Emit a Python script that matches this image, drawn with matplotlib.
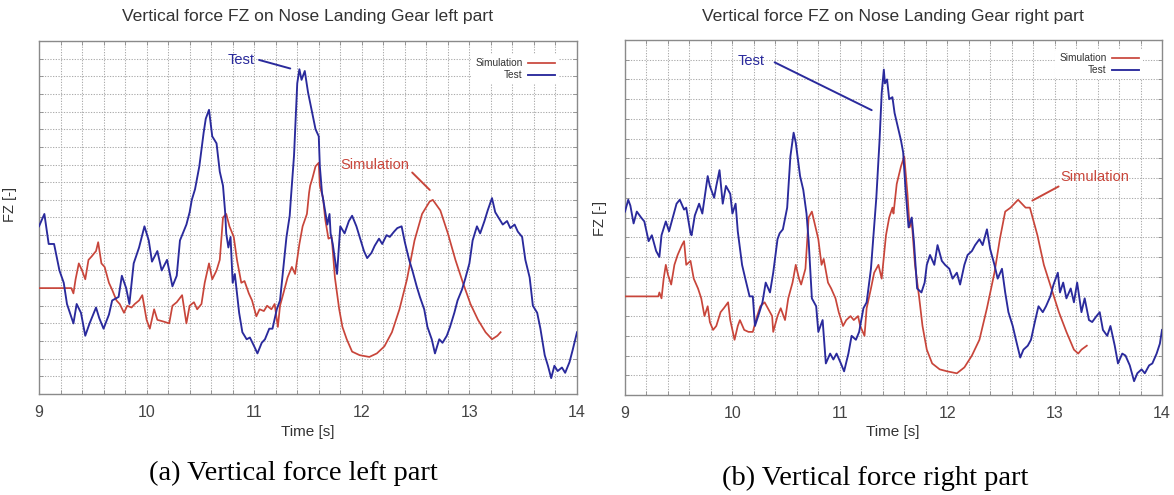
import numpy as np
import matplotlib
matplotlib.use("Agg")
import matplotlib.pyplot as plt

# ---------------- data (y in grid units) ----------------
left_test_t = [9.00, 9.05, 9.09, 9.14, 9.19, 9.23, 9.26, 9.32, 9.35, 9.39, 9.43, 9.47, 9.53, 9.56, 9.60,
               9.65, 9.68, 9.74, 9.77, 9.81, 9.84, 9.88, 9.93, 9.98, 10.02, 10.05, 10.10, 10.14, 10.19,
               10.24, 10.28, 10.31, 10.37, 10.40, 10.42, 10.45, 10.49, 10.53, 10.55, 10.58, 10.61, 10.65,
               10.68, 10.71, 10.73, 10.74, 10.76, 10.78, 10.80, 10.82, 10.86, 10.89, 10.93, 10.96, 11.00,
               11.03, 11.07, 11.10, 11.14, 11.17, 11.21, 11.24, 11.26, 11.30, 11.33, 11.34, 11.37, 11.40,
               11.42, 11.44, 11.47, 11.50, 11.54, 11.57, 11.60, 11.61, 11.63, 11.65, 11.68, 11.70, 11.71,
               11.73, 11.77, 11.80, 11.84, 11.88, 11.91, 11.95, 11.98, 12.02, 12.05, 12.09, 12.12, 12.16,
               12.19, 12.23, 12.26, 12.30, 12.33, 12.37, 12.40, 12.44, 12.47, 12.51, 12.54, 12.58, 12.61,
               12.65, 12.68, 12.72, 12.75, 12.79, 12.82, 12.86, 12.89, 12.93, 12.96, 13.00, 13.03, 13.07,
               13.10, 13.14, 13.17, 13.21, 13.24, 13.28, 13.31, 13.35, 13.38, 13.42, 13.45, 13.49, 13.52,
               13.56, 13.59, 13.63, 13.66, 13.70, 13.73, 13.76, 13.79, 13.82, 13.86, 13.89, 13.93, 13.96,
               14.00]
left_test_y = [9.5, 10.2, 8.5, 8.5, 7.0, 6.3, 5.1, 4.0, 5.1, 4.6, 3.3, 4.0, 4.9, 4.3, 3.7,
               4.5, 5.3, 5.5, 6.7, 6.0, 5.1, 7.4, 8.3, 9.5, 8.7, 7.5, 8.1, 7.0, 7.6,
               6.1, 6.7, 8.7, 9.6, 10.3, 11.0, 11.6, 12.9, 14.8, 15.6, 16.1, 14.6, 14.2,
               12.6, 11.8, 10.3, 9.1, 8.3, 8.9, 6.3, 6.8, 4.6, 3.5, 3.1, 3.2, 2.7,
               2.3, 2.9, 3.1, 3.7, 3.7, 4.8, 5.3, 6.5, 8.9, 10.1, 11.0, 13.5, 17.6,
               18.4, 17.8, 18.3, 17.1, 15.9, 15.0, 14.6, 12.9, 11.4, 10.7, 9.6, 10.2, 9.1,
               8.5, 6.8, 9.5, 9.1, 9.8, 10.1, 9.5, 8.9, 8.1, 7.7, 8.0, 8.4, 8.8,
               8.5, 9.0, 8.9, 9.2, 9.4, 9.5, 8.6, 7.6, 7.0, 6.1, 5.5, 4.8, 3.8,
               3.1, 2.3, 3.1, 2.9, 3.3, 3.8, 4.6, 5.3, 5.9, 6.5, 7.4, 8.7, 9.5,
               9.1, 9.8, 10.4, 11.1, 10.3, 9.9, 9.6, 9.8, 9.4, 9.6, 9.2, 8.9, 7.6,
               6.6, 5.0, 4.6, 3.7, 2.2, 1.6, 0.9, 1.6, 1.3, 1.5, 1.2, 1.8, 2.5,
               3.5]

left_sim_t = [9.00, 9.30, 9.32, 9.34, 9.37, 9.40, 9.43, 9.46, 9.49, 9.53, 9.55, 9.58, 9.61, 9.65, 9.68,
              9.72, 9.75, 9.79, 9.82, 9.86, 9.89, 9.93, 9.96, 10.00, 10.03, 10.07, 10.10, 10.16, 10.21,
              10.24, 10.28, 10.33, 10.37, 10.40, 10.44, 10.47, 10.51, 10.54, 10.58, 10.61, 10.65, 10.68,
              10.71, 10.74, 10.77, 10.81, 10.84, 10.88, 10.91, 10.95, 10.98, 11.02, 11.05, 11.09, 11.12,
              11.16, 11.19, 11.22, 11.24, 11.28, 11.31, 11.35, 11.38, 11.42, 11.45, 11.49, 11.51, 11.52,
              11.54, 11.57, 11.60, 11.61, 11.64, 11.66, 11.69, 11.72, 11.75, 11.79, 11.82, 11.86, 11.91,
              11.98, 12.07, 12.14, 12.21, 12.28, 12.35, 12.42, 12.49, 12.56, 12.63, 12.66, 12.73, 12.80,
              12.87, 12.94, 13.01, 13.08, 13.15, 13.21, 13.26, 13.29]
left_sim_y = [6.0, 6.0, 5.7, 6.5, 7.4, 7.0, 6.5, 7.6, 7.8, 8.1, 8.6, 7.4, 7.2, 6.3, 5.9,
              5.3, 5.1, 4.6, 5.0, 4.9, 5.1, 5.3, 5.6, 4.2, 3.7, 4.8, 4.2, 4.1, 4.0,
              5.0, 5.2, 5.6, 4.0, 5.0, 5.2, 4.8, 5.1, 6.3, 7.4, 6.5, 7.0, 7.6,
              10.0, 10.2, 9.5, 8.9, 7.6, 6.3, 6.4, 5.7, 5.3, 4.4, 4.8, 4.7, 5.0,
              4.8, 5.1, 3.8, 5.0, 5.9, 6.6, 7.2, 6.8, 8.5, 9.5, 10.2, 11.4, 11.8,
              12.2, 12.9, 13.1, 11.8, 11.1, 9.9, 8.8, 8.9, 6.6, 4.8, 3.8, 3.1, 2.4,
              2.2, 2.1, 2.3, 2.7, 3.5, 4.8, 6.5, 8.7, 10.2, 10.9, 11.0, 10.4, 9.1,
              7.6, 6.3, 5.1, 4.2, 3.5, 3.1, 3.3, 3.5]

right_test_t = [9.00, 9.03, 9.05, 9.08, 9.11, 9.15, 9.18, 9.22, 9.25, 9.29, 9.32, 9.34, 9.38, 9.41, 9.45,
                9.48, 9.51, 9.55, 9.57, 9.61, 9.62, 9.65, 9.69, 9.72, 9.77, 9.79, 9.83, 9.85, 9.88,
                9.91, 9.94, 9.98, 10.00, 10.03, 10.05, 10.09, 10.12, 10.16, 10.19, 10.21, 10.24, 10.28,
                10.31, 10.35, 10.38, 10.42, 10.44, 10.47, 10.51, 10.54, 10.57, 10.59, 10.63, 10.66, 10.69,
                10.71, 10.74, 10.78, 10.80, 10.84, 10.87, 10.91, 10.94, 10.97, 11.01, 11.04, 11.08, 11.11,
                11.15, 11.18, 11.22, 11.25, 11.29, 11.32, 11.34, 11.37, 11.39, 11.41, 11.42, 11.44, 11.46,
                11.49, 11.51, 11.54, 11.57, 11.59, 11.61, 11.64, 11.67, 11.69, 11.72, 11.76, 11.79, 11.81,
                11.84, 11.88, 11.91, 11.95, 11.98, 12.02, 12.05, 12.09, 12.12, 12.16, 12.19, 12.23, 12.26,
                12.30, 12.33, 12.37, 12.40, 12.44, 12.47, 12.51, 12.54, 12.57, 12.61, 12.64, 12.68, 12.71,
                12.75, 12.78, 12.82, 12.85, 12.89, 12.92, 12.96, 12.99, 13.03, 13.05, 13.08, 13.11, 13.15,
                13.18, 13.21, 13.25, 13.28, 13.32, 13.35, 13.39, 13.42, 13.45, 13.49, 13.52, 13.56, 13.59,
                13.63, 13.66, 13.70, 13.74, 13.77, 13.81, 13.84, 13.88, 13.91, 13.95, 13.98, 14.00]
right_test_y = [9.3, 9.9, 9.6, 8.7, 9.3, 9.0, 8.8, 7.8, 8.1, 7.3, 7.0, 8.1, 8.8, 8.3, 9.1,
                9.7, 9.9, 9.4, 9.5, 8.2, 8.1, 9.1, 9.7, 9.2, 11.1, 10.6, 10.0, 10.6, 11.4,
                9.7, 10.6, 10.2, 9.2, 9.7, 8.3, 6.6, 5.9, 5.0, 5.0, 3.5, 4.0, 4.7,
                5.7, 5.2, 6.2, 7.9, 8.2, 8.4, 9.5, 12.1, 13.3, 12.8, 11.1, 10.4, 9.2,
                7.8, 4.9, 4.5, 3.2, 3.8, 1.6, 2.1, 1.8, 2.1, 1.6, 1.2, 2.1, 3.0,
                2.8, 3.2, 4.4, 4.7, 6.4, 8.6, 10.0, 12.9, 15.3, 16.5, 15.8, 16.0, 15.0,
                15.1, 14.3, 13.6, 12.9, 12.3, 10.6, 8.5, 9.0, 7.8, 5.4, 5.2, 5.7, 6.6,
                7.1, 6.6, 7.6, 6.8, 6.6, 6.4, 5.9, 6.2, 5.6, 6.6, 7.1, 7.3, 7.6,
                7.9, 7.6, 8.4, 7.4, 6.6, 5.9, 6.4, 5.2, 4.2, 3.5, 2.8, 1.9, 2.3,
                2.5, 2.8, 3.8, 4.5, 4.2, 4.5, 5.0, 5.6, 6.2, 5.2, 5.7, 4.9, 5.4,
                4.7, 5.7, 4.2, 4.9, 3.8, 3.7, 4.0, 4.2, 3.3, 3.0, 3.5, 2.5, 1.6,
                2.1, 2.0, 1.5, 0.7, 1.1, 1.3, 1.1, 1.5, 1.6, 2.1, 2.6, 3.3]

right_sim_t = [9.00, 9.31, 9.32, 9.34, 9.36, 9.38, 9.40, 9.43, 9.46, 9.49, 9.53, 9.55, 9.57, 9.61, 9.64,
               9.68, 9.71, 9.74, 9.77, 9.79, 9.82, 9.85, 9.89, 9.92, 9.96, 9.98, 10.02, 10.05, 10.07,
               10.11, 10.15, 10.19, 10.23, 10.26, 10.30, 10.33, 10.37, 10.38, 10.42, 10.45, 10.49, 10.52,
               10.56, 10.59, 10.62, 10.64, 10.68, 10.71, 10.74, 10.77, 10.80, 10.83, 10.85, 10.89, 10.92,
               10.96, 10.99, 11.03, 11.06, 11.10, 11.13, 11.17, 11.19, 11.23, 11.25, 11.29, 11.32, 11.36,
               11.39, 11.43, 11.46, 11.49, 11.50, 11.53, 11.57, 11.60, 11.63, 11.65, 11.67, 11.70, 11.74,
               11.77, 11.81, 11.86, 11.93, 12.00, 12.09, 12.16, 12.23, 12.30, 12.37, 12.44, 12.49, 12.54,
               12.59, 12.66, 12.73, 12.77, 12.84, 12.90, 12.97, 13.04, 13.11, 13.18, 13.22, 13.25, 13.30]
right_sim_y = [5.0, 5.0, 5.2, 4.9, 5.9, 6.6, 6.1, 5.6, 6.6, 7.1, 7.6, 7.8, 6.6, 6.8, 5.9,
               5.4, 4.9, 4.0, 4.5, 3.7, 3.3, 3.5, 4.2, 4.4, 4.7, 3.8, 2.8, 3.5, 3.8,
               3.3, 3.2, 3.2, 4.0, 4.5, 4.7, 4.4, 4.0, 3.2, 4.0, 4.4, 3.8, 4.9,
               5.7, 6.6, 5.9, 5.6, 6.4, 9.0, 9.3, 8.6, 7.9, 6.6, 6.9, 5.7, 5.4,
               4.9, 4.2, 3.5, 3.8, 4.0, 3.8, 4.0, 3.5, 3.0, 4.4, 5.4, 6.2, 6.6,
               5.9, 8.1, 9.0, 9.5, 9.2, 10.7, 11.6, 12.1, 10.2, 8.5, 8.8, 6.6, 4.9,
               3.5, 2.3, 1.6, 1.3, 1.2, 1.1, 1.4, 2.0, 2.8, 4.4, 6.2, 7.9, 9.3,
               9.5, 9.9, 9.5, 9.5, 8.1, 6.6, 5.4, 4.2, 3.2, 2.3, 2.1, 2.3, 2.5]

xticks_major = [9, 10, 11, 12, 13, 14]
titles = ["Vertical force FZ on Nose Landing Gear left part",
          "Vertical force FZ on Nose Landing Gear right part"]
captions = ["(a) Vertical force left part", "(b) Vertical force right part"]
series_labels = ["Simulation", "Test"]

# ---------------- style ----------------
BLUE = "#2a2a9c"
RED = "#c8453a"
GRID = "#ababab"
FRAME = "#8a8a8a"
TXT = "#333333"

W, H = 1174, 495
fig = plt.figure(figsize=(W / 100, H / 100), dpi=100)
plt.rcParams["font.family"] = ["Liberation Sans", "DejaVu Sans"]


def px_rect(x0, y0, x1, y1):
    return [x0 / W, 1 - y1 / H, (x1 - x0) / W, (y1 - y0) / H]


panels = [
    dict(rect=px_rect(39, 41, 577, 394), ymax=20,
         test=(left_test_t, left_test_y), sim=(left_sim_t, left_sim_y),
         title_xy=(308, 17), ylab_xy=(10, 205), xlab_xy=(308, 432),
         test_ann=((10.88, 18.9), (11.36, 18.4), (11.02, 18.97)),
         sim_ann=((12.12, 12.95), (12.65, 11.45), (12.45, 12.66)),
         cap_xy=(293, 473), leg_anchor=(0.967, 0.963)),
    dict(rect=px_rect(625, 40, 1162, 395), ymax=18,
         test=(right_test_t, right_test_y), sim=(right_sim_t, right_sim_y),
         title_xy=(893, 16), ylab_xy=(600, 218), xlab_xy=(893, 432),
         test_ann=((10.17, 16.93), (11.32, 14.38), (10.37, 16.93)),
         sim_ann=((13.37, 11.06), (12.77, 9.79), (13.06, 10.64)),
         cap_xy=(875, 478), leg_anchor=(0.965, 0.974)),
]

for i, p in enumerate(panels):
    ax = fig.add_axes(p["rect"])
    ax.set_xlim(9, 14)
    ax.set_ylim(0, p["ymax"])
    xt = np.round(np.arange(9, 14.001, 0.2), 1)
    ax.set_xticks(xt)
    ax.set_xticklabels([str(int(v)) if abs(v - round(v)) < 1e-6 else "" for v in xt],
                       fontsize=11.5, color="#444444")
    ax.set_yticks(np.arange(0, p["ymax"] + 1, 1))
    ax.set_yticklabels([])
    ax.tick_params(direction="in", length=3, width=0.6, color=FRAME,
                   top=True, right=True, pad=8)
    for s in ax.spines.values():
        s.set_color(FRAME)
        s.set_linewidth(1.0)
    ax.grid(True, linestyle=(0, (1.2, 1.4)), color=GRID, linewidth=0.75)
    ax.set_axisbelow(True)

    ax.plot(*p["sim"], color=RED, lw=1.25, label=series_labels[0], zorder=3)
    ax.plot(*p["test"], color=BLUE, lw=1.35, label=series_labels[1], zorder=4)

    leg = ax.legend(loc="upper right", bbox_to_anchor=p["leg_anchor"], borderaxespad=0,
                    markerfirst=False, fontsize=7.3, handlelength=2.7, handletextpad=0.5,
                    labelspacing=0.2, frameon=True, borderpad=0.4)
    leg.get_frame().set_facecolor("white")
    leg.get_frame().set_edgecolor("none")
    leg.get_frame().set_alpha(1)
    for t in leg.get_texts():
        t.set_color(TXT)
    leg.set_zorder(5)

    # annotations
    (tx, ty), (ex, ey), (sx, sy) = p["test_ann"]
    ax.text(tx, ty, "Test", color=BLUE, fontsize=10.5, ha="center", va="center", zorder=6)
    ax.annotate("", xy=(ex, ey), xytext=(sx, sy),
                arrowprops=dict(arrowstyle="-", color=BLUE, lw=1.4), zorder=6)
    (tx, ty), (ex, ey), (sx, sy) = p["sim_ann"]
    ax.text(tx, ty, "Simulation", color=RED, fontsize=10.5, ha="center", va="center", zorder=6)
    ax.annotate("", xy=(ex, ey), xytext=(sx, sy),
                arrowprops=dict(arrowstyle="-", color=RED, lw=1.4), zorder=6)

    fig.text(p["title_xy"][0] / W, 1 - p["title_xy"][1] / H, titles[i],
             fontsize=12.6, color=TXT, ha="center", va="center")
    fig.text(p["ylab_xy"][0] / W, 1 - p["ylab_xy"][1] / H, "FZ [-]",
             fontsize=10.5, color=TXT, ha="center", va="center", rotation=90)
    fig.text(p["xlab_xy"][0] / W, 1 - p["xlab_xy"][1] / H, "Time [s]",
             fontsize=11, color=TXT, ha="center", va="center")
    fig.text(p["cap_xy"][0] / W, 1 - p["cap_xy"][1] / H, captions[i],
             fontsize=20.5, color="black", ha="center", va="center",
             family=["Liberation Serif", "DejaVu Serif"])

fig.savefig("out.png", dpi=100)
